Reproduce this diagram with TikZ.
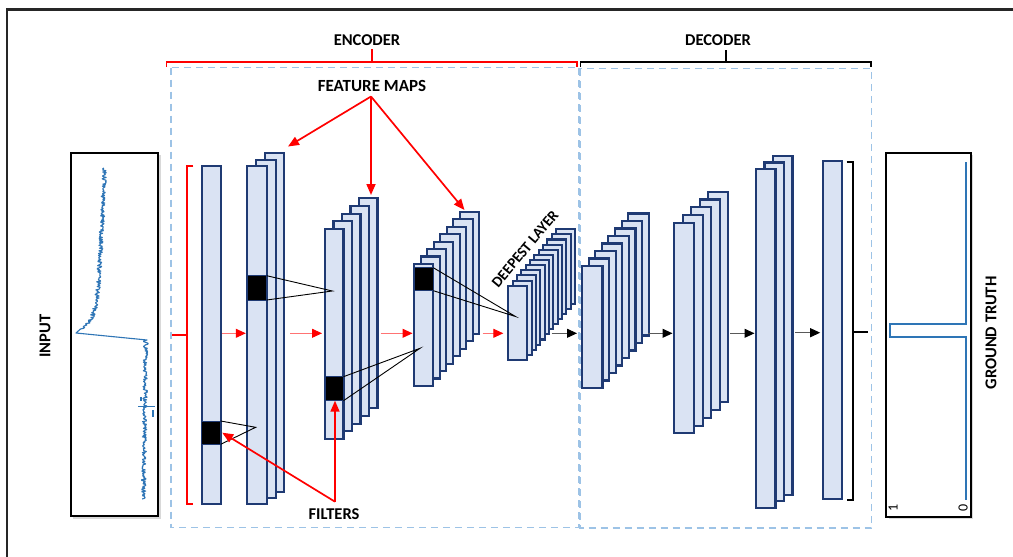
\documentclass[tikz,border=0pt]{standalone}
\usepackage{fontspec}
\setmainfont{Carlito}
\usetikzlibrary{arrows.meta,shadows,calc}
\definecolor{lfill}{HTML}{DAE3F3}
\definecolor{ldraw}{HTML}{1F3A73}
\definecolor{dashblue}{HTML}{9DC3E6}
\definecolor{sig}{HTML}{2E75B6}
\tikzset{
  layerbox/.style={draw=ldraw, fill=lfill, line width=2.1pt},
  layer/.style={draw=ldraw, fill=lfill, line width=2.1pt, inner sep=0pt, outer sep=0pt, anchor=north west},
  filt/.style={fill=black, draw=ldraw, line width=1pt, inner sep=0pt, outer sep=0pt, anchor=north west},
  lbl/.style={font=\fontsize{16.5}{18}\selectfont\bfseries, inner sep=0pt},
  redarr/.style={draw=red!55, line width=1pt, -{Triangle[length=10pt,width=9pt,color=red]}},
  blkarr/.style={draw=black!65, line width=1pt, -{Triangle[length=10pt,width=9pt,color=black]}},
  fmarr/.style={draw=red, line width=1.7pt, -{Triangle[length=11pt,width=9pt]}},
  fline/.style={draw=black, line width=0.9pt},
  dbox/.style={draw=dashblue, line width=1.5pt, dash pattern=on 7pt off 5pt},
  sigbox/.style={draw=black, line width=2pt, fill=white, inner sep=0pt, outer sep=0pt, anchor=north west,
    drop shadow={shadow xshift=2.5pt, shadow yshift=-2.5pt, opacity=0.3}},
}
\newcommand\layerstack[8]{%
  \foreach \i in {#6,...,1} {\draw[layerbox] ({#2+\i*#7},{#3+\i*#8}) rectangle ++(#4,#5);}
  \node[layer, minimum width=#4 pt, minimum height=#5 pt] (#1) at (#2,#3) {};
}
\begin{document}
\begin{tikzpicture}[x=1pt,y=-1pt]
\useasboundingbox (0,0) rectangle (1013,557);
% outer frame
\draw[line width=2.4pt, black!85] (7.2,557) -- (7.2,9.5) -- (1013,9.5);

% dashed regions
\draw[dbox] (171,67.5) rectangle (578.8,527.5);
\draw[dbox] (580.2,68.5) rectangle (871.5,528);

% top brackets
\draw[red, line width=1.8pt] (166.5,66.5) -- (166.5,62) -- (577,62) -- (577,66.5);
\draw[red, line width=1.8pt] (372,62) -- (372,49);
\draw[black, line width=1.8pt] (580.5,66.5) -- (580.5,62) -- (871,62) -- (871,66.5);
\draw[black, line width=1.8pt] (726,62) -- (726,50);
\node[lbl] (enc) at (367,40) {ENCODER};
\node[lbl] (dec) at (718,40) {DECODER};

% input box
\node[sigbox, minimum width=87.6pt, minimum height=363.3pt] (inp) at (70.7,152.7) {};
\node[lbl, rotate=90] (inptxt) at (45,336) {INPUT};
\pgfmathsetseed{1234}
\draw[sig, line width=1.1pt, line join=round]
  plot[domain=168:329, samples=240, variable=\t]
    ({105-9*(\t-168)/165-20*exp(-(333-\t)/12)+2.2*rand}, \t)
  -- (76,333) -- (147,340)
  -- plot[domain=341:499, samples=240, variable=\t]
    ({146-2.5*(\t-340)/160+2.3*rand}, \t);
\draw[sig, line width=1.1pt] (138,406.5) -- (155,406.5);
\draw[sig, line width=1.1pt] (141,397) -- (141,401);
\draw[sig, line width=1.1pt] (153,410) -- (153,417);

% ground truth box
\node[sigbox, minimum width=84.7pt, minimum height=364pt] (gt) at (886,152.7) {};
\node[lbl, rotate=90] (gttxt) at (991,333) {GROUND TRUTH};
\draw[sig, line width=2pt] (966,162) -- (966,324) -- (889.5,324) -- (889.5,337) -- (966,337) -- (966,500);
\node[font=\fontsize{14}{15}\selectfont, rotate=90, inner sep=0pt] (one) at (893,508) {1};
\node[font=\fontsize{14}{15}\selectfont, rotate=90, inner sep=0pt] (zero) at (963,508) {0};

% encoder layers
\node[layer, minimum width=19pt, minimum height=338.3pt] (e0) at (201.7,166) {};
\layerstack{e1}{247.3}{166}{19.4}{338.3}{2}{8.85}{-6.3}
\layerstack{e2}{325}{229}{18.5}{210}{4}{8.5}{-7.7}
\layerstack{e3}{414}{264}{19.3}{122}{7}{6.57}{-7.47}
\layerstack{dl}{508.3}{285.7}{19}{74.3}{11}{4.34}{-5.13}
% decoder layers
\layerstack{d1}{582}{266}{20.5}{122}{7}{6.6}{-7.5}
\layerstack{d2}{674}{222.7}{20}{210.6}{4}{8.6}{-7.75}
\layerstack{d3}{756}{169}{19.5}{338.7}{2}{8.5}{-6.5}
\node[layer, minimum width=19.6pt, minimum height=338.6pt] (d4) at (822.7,160.7) {};

% filters
\node[filt, minimum width=19pt, minimum height=23.3pt] (f0) at (201.7,421) {};
\node[filt, minimum width=19.4pt, minimum height=24.3pt] (f1) at (247.3,275.7) {};
\node[filt, minimum width=18.5pt, minimum height=24pt] (f2) at (325,376.7) {};
\node[filt, minimum width=19.3pt, minimum height=23pt] (f3) at (414,267.7) {};
\coordinate (p0) at (255.7,427.3);
\coordinate (p1) at (332.3,291);
\coordinate (p2) at (420,348.3);
\coordinate (p3) at (515.5,316.5);
\draw[fline] (f0.north east) -- (p0) -- (f0.south east);
\draw[fline] (f1.north east) -- (p1) -- (f1.south east);
\draw[fline] (f2.north east) -- (p2) -- (f2.south east);
\draw[fline] (f3.north east) -- (p3) -- (f3.south east);

% left and right brackets
\draw[red, line width=1.8pt] (193.3,166) -- (187.3,166) -- (187.3,504.3) -- (193.3,504.3);
\draw[red, line width=1.8pt] (187.3,335) -- (171.7,335);
\draw[black, line width=1.8pt] (846.7,161.7) -- (853,161.7) -- (853,500) -- (846.7,500);
\draw[black, line width=1.8pt] (853,331.7) -- (868,331.7);

% flow arrows
\coordinate (ay) at (0,333.3);
\coordinate (r1s) at (290,333.3);
\coordinate (r2s) at (380.7,333.3);
\coordinate (r3s) at (482.7,333.3);
\coordinate (b0s) at (551.7,333.3);
\coordinate (b0e) at (577,333.3);
\coordinate (b1s) at (648,333.3);
\coordinate (b2s) at (730,333.3);
\coordinate (b3s) at (795,332.7);
\draw[redarr] ($(e0.east|-ay)+(1.5,0)$) -- ($(e1.west|-ay)+(-1.5,0)$);
\draw[redarr] (r1s) -- ($(e2.west|-ay)+(-3,0)$);
\draw[redarr] (r2s) -- ($(e3.west|-ay)+(-1.5,0)$);
\draw[redarr] (r3s) -- ($(dl.west|-ay)+(-5,0)$);
\draw[blkarr] (b0s) -- (b0e);
\draw[blkarr] (b1s) -- ($(d2.west|-ay)+(-1.5,0)$);
\draw[blkarr] (b2s) -- ($(d3.west|-ay)+(-1.5,0)$);
\draw[blkarr] (b3s) -- ($(d4.west|-b3s)+(-2.5,0)$);

% labels with red arrows
\node[lbl, font=\fontsize{17}{19}\selectfont\bfseries] (fm) at (372,86) {FEATURE MAPS};
\coordinate (fms) at (371,96.5);
\coordinate (fmt1) at (288,146.5);
\coordinate (fmt2) at (371,195);
\coordinate (fmt3) at (464.5,210);
\draw[fmarr] (fms) -- (fmt1);
\draw[fmarr] (fms) -- (fmt2);
\draw[fmarr] (fms) -- (fmt3);

\node[lbl] (fl) at (334,514) {FILTERS};
\coordinate (fls) at (335,501.7);
\draw[fmarr] (fls) -- (f2.south -| fls);
\draw[fmarr] (fls) -- ($(f0.east)+(1.5,0)$);

\node[lbl, rotate=50, font=\fontsize{15}{17}\selectfont\bfseries] (deep) at (525,249) {DEEPEST LAYER};
\end{tikzpicture}
\end{document}
